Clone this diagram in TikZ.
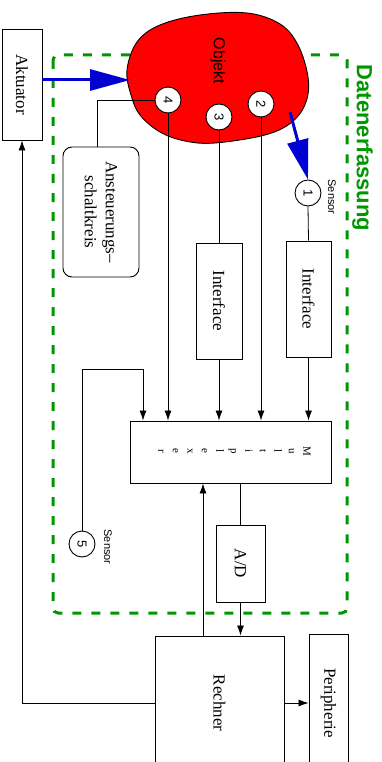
\documentclass[tikz,border=0pt]{standalone}
\usepackage{fontspec}
\setmainfont{Liberation Serif}
\setsansfont{Liberation Sans}
\usetikzlibrary{arrows.meta}
\definecolor{dgreen}{RGB}{0,150,0}
\definecolor{dblue}{RGB}{0,0,210}
\begin{document}
\begin{tikzpicture}[x=1pt,y=-1pt,
  box/.style={draw,line width=0.9pt,inner sep=0pt,fill=white,font=\fontsize{17}{21}\selectfont},
  num/.style={draw,circle,line width=0.9pt,minimum size=26pt,inner sep=0pt,fill=white,font=\sffamily\fontsize{13}{13}\selectfont},
  lbl/.style={font=\sffamily\fontsize{11}{11}\selectfont,inner sep=0pt},
  conn/.style={line width=0.8pt},
  arr/.style={line width=0.8pt,-{Latex[length=10pt,width=7pt]}},
  barr/.style={dblue,line width=3pt,-{Triangle[length=40pt,width=21pt]}}
]
\useasboundingbox (0,0) rectangle (382,762);
\clip (0,0) rectangle (382,762);
% data acquisition frame
\draw[dgreen,line width=3pt,dash pattern=on 9pt off 10pt,rounded corners=5pt] (53,55) rectangle (347,613);
\node[dgreen,font=\sffamily\bfseries\fontsize{22}{22}\selectfont,rotate=-90,inner sep=0pt] (daten) at (362.5,148) {Datenerfassung};
% object blob
\draw[fill=red,line width=0.9pt] plot[smooth cycle,tension=0.6] coordinates {(127,70) (137,42) (160,25) (200,15) (247,13) (280,24) (298,45) (308,77) (306,102) (292,122) (265,135) (215,143) (185,141) (160,132) (140,115) (131,95)};
\node[font=\sffamily\fontsize{16}{16}\selectfont,rotate=-90,inner sep=0pt] (objekt) at (218,61) {Objekt};
% boxes
\node[box,minimum width=40pt,minimum height=111pt] (akt) at (22,84.5) {\rotatebox{-90}{Aktuator}};
\node[box,rounded corners=9pt,minimum width=76pt,minimum height=130pt,align=center] (anst) at (101,212) {\rotatebox{-90}{\parbox{120pt}{\centering\fontsize{17}{21}\selectfont Ansteuerungs--\\schaltkreis}}};
\node[box,minimum width=46pt,minimum height=116pt] (if1) at (219,301) {\rotatebox{-90}{Interface}};
\node[box,minimum width=45pt,minimum height=116pt] (if2) at (308.5,299) {\rotatebox{-90}{Interface}};
\node[box,minimum width=201pt,minimum height=62pt] (mux) at (230.5,452) {};
\node[inner sep=0pt] (muxt) at (234.5,451) {\rotatebox{-90}{\parbox{12pt}{\centering\fontsize{11}{14.5}\selectfont M\\u\\l\\t\\i\\p\\l\\e\\x\\e\\r}}};
\node[box,minimum width=49pt,minimum height=77pt] (ad) at (240.5,563.5) {\rotatebox{-90}{A/D}};
\node[box,minimum width=129pt,minimum height=134pt] (rech) at (219.5,703) {\rotatebox{-90}{Rechner}};
\node[box,minimum width=39pt,minimum height=138pt] (per) at (328.5,703) {\rotatebox{-90}{Peripherie}};
% sensors / measurement points
\node[num] (c4) at (168,100) {\rotatebox{-90}{4}};
\node[num] (c3) at (219,117) {\rotatebox{-90}{3}};
\node[num] (c2) at (261,104) {\rotatebox{-90}{2}};
\node[num] (c1) at (308,193) {\rotatebox{-90}{1}};
\node[num] (c5) at (82,544) {\rotatebox{-90}{5}};
\node[lbl,rotate=-90] (s1) at (332,197) {Sensor};
\node[lbl,rotate=-90] (s5) at (108,547) {Sensor};
% blue arrows
\coordinate (b1) at (130,80);
\draw[barr] (akt.east |- b1) -- (b1);
\coordinate (b2) at (290,112);
\draw[barr] (b2) -- (c1.north);
% connections
\draw[conn] (c4.west) -| ([xshift=-4pt]anst.north);
\draw[arr] (c4.south) -- (c4.south |- mux.north);
\draw[conn] (c3.south) -- (if1.north);
\draw[arr] (if1.south) -- (if1.south |- mux.north);
\draw[arr] (c2.south) -- (c2.south |- mux.north);
\draw[conn] (c1.south) -- (if2.north);
\draw[arr] (if2.south) -- (if2.south |- mux.north);
\coordinate (k5) at (143,369);
\draw[arr] (c5.north) |- (k5) -- (k5 |- mux.north);
\draw[conn] (ad.north |- mux.south) -- (ad.north);
\draw[arr] (ad.south) -- (ad.south |- rech.north);
\coordinate (r2) at (203,636);
\draw[arr] (r2) -- (r2 |- mux.south);
\draw[arr] (rech.east) -- (rech.east -| per.west);
\draw[arr] (rech.west) -| (akt.south);
\end{tikzpicture}
\end{document}
